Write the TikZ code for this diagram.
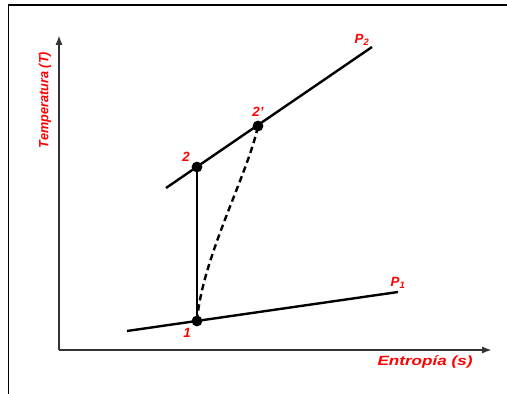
\documentclass[tikz,border=0pt]{standalone}
\usepackage{fontspec}
\setsansfont{Liberation Sans}
\usetikzlibrary{positioning, arrows.meta, calc}

\begin{document}
\begin{tikzpicture}[
    dot/.style={circle, fill=black, inner sep=0pt, minimum size=0.27cm},
    lbl/.style={text=red, font=\sffamily\bfseries\itshape\fontsize{9.5}{11}\selectfont,
                inner sep=0pt, transform shape},
    axis/.style={-{Latex[length=0.25cm, width=0.18cm]}, line width=0.055cm, black!80},
    isobar/.style={line width=0.06cm},
    >=stealth
]
\useasboundingbox (0,0) rectangle (12.675,9.85);
% Frame
\draw[line width=0.045cm] (0.21,0) |- (12.675,9.725);

% Axes
\coordinate (origin) at (1.475,1.1);
\coordinate (ytip) at (1.475,8.975);
\coordinate (xtip) at (12.3,1.1);
\draw[axis] (origin) -- (ytip);
\draw[axis] (origin) -- (xtip);
\node[lbl, rotate=90, xscale=0.95] (tlabel) at (1.125,7.35) {Temperatura (T)};
\node[lbl, xscale=1.28] (slabel) at (10.625,0.8) {Entropía (s)};

% Isobars
\coordinate (p2start) at (4.15,5.15);
\coordinate (p2end) at (9.3,8.675);
\coordinate (p1start) at (3.175,1.575);
\coordinate (p1end) at (9.95,2.55);
\draw[isobar] (p2start) -- (p2end);
\draw[isobar] (p1start) -- (p1end);
\node[lbl] (p2) at (9.05,8.85) {P\textsubscript{2}};
\node[lbl] (p1) at (9.95,2.775) {P\textsubscript{1}};

% States
\node[dot] (s1) at (4.925,1.825) {};
\node[dot] (s2) at (4.925,5.675) {};
\node[dot] (s2r) at (6.45,6.7) {};
\node[lbl] (l1) at (4.675,1.525) {1};
\node[lbl] (l2) at (4.65,5.925) {2};
\node[lbl] (l2r) at (6.45,7.05) {2'};

% Compression
\draw[isobar, line width=0.07cm] (s1.center) -- (s2.center);
\draw[isobar, dash pattern=on 0.16cm off 0.1cm] (s1.center) .. controls (5.05,3.4) and (6.2,5.5) .. (s2r.center);
\end{tikzpicture}
\end{document}
